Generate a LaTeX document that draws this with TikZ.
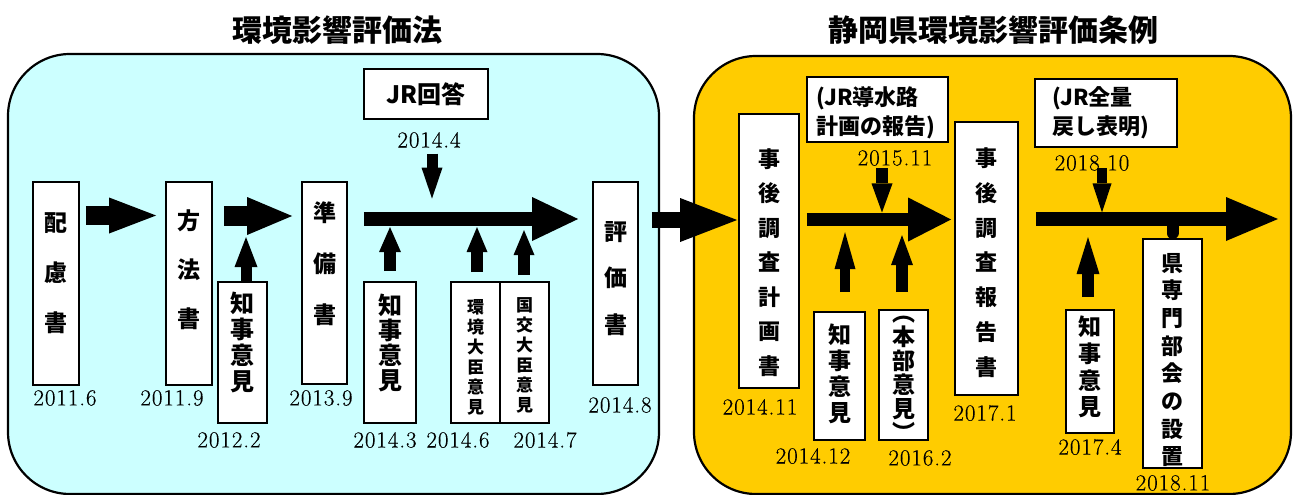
\documentclass[tikz,border=0pt]{standalone}
\usepackage{fontspec}
\newfontfamily\jp{Noto Sans CJK JP}
\newfontfamily\datefont{Latin Modern Roman}[LetterSpace=4,FakeBold=0.25]
\usetikzlibrary{arrows.meta,calc}
\definecolor{panelL}{HTML}{CCFFFF}
\definecolor{panelR}{HTML}{FFCC00}
\begin{document}
\begin{tikzpicture}[x=1pt,y=-1pt,
  panel/.style={draw=black, line width=2.2pt, rounded corners=62pt},
  box/.style n args={2}{draw=black, fill=white, line width=1.8pt, inner sep=0pt, minimum width=#1, minimum height=#2},
  vtext/.style n args={2}{font={\jp\bfseries\fontsize{#1}{#2}\selectfont\lineskiplimit=-50pt}, align=center, inner sep=0pt},
  datelbl/.style={font={\datefont\fontsize{23}{26}\selectfont}, inner sep=0pt},
  titlelbl/.style={font=\jp\bfseries\fontsize{30}{34}\selectfont, inner sep=0pt},
  notelbl/.style={font={\jp\bfseries\fontsize{22}{29}\selectfont}, align=left, inner sep=0pt, anchor=west},
  blk/.style n args={3}{line width=#1, -{Triangle[length=#2,width=#3,line width=0pt]}},
  ]
\useasboundingbox (0,0) rectangle (1294,495);
\fill[white] (0,0) rectangle (1294,495);

% titles
\node[titlelbl] (t1) at (337,30) {環境影響評価法};
\node[titlelbl] (t2) at (993,30) {静岡県環境影響評価条例};

% panels
\draw[panel, fill=panelL] (8,54) rectangle (659,494);
\draw[panel, fill=panelR] (694,56) rectangle (1291,494);

% boxes left
\node[box={46pt}{203pt}] (b1) at (56,283.5) {};
\node[box={46pt}{203pt}] (b2) at (189,283.5) {};
\node[box={49pt}{141pt}] (k1) at (242.5,352.5) {};
\node[box={45pt}{202pt}] (b3) at (324.5,283) {};
\node[box={52pt}{141pt}] (k2) at (390,352.5) {};
\node[box={49pt}{141pt}] (m1) at (475.5,352.5) {};
\node[box={49pt}{141pt}] (m2) at (524.5,352.5) {};
\node[box={45pt}{203pt}] (b4) at (615.5,283.5) {};
\node[box={124pt}{50pt}, font=\jp\bfseries\fontsize{24}{28}\selectfont] (jr1) at (426,94) {JR回答};

% boxes right
\node[box={60pt}{274pt}] (c1) at (769,251) {};
\node[box={51pt}{128pt}] (k3) at (839.5,376) {};
\node[box={49pt}{130pt}] (h1) at (903.5,375) {};
\node[box={63pt}{273pt}] (c2) at (986.5,258.5) {};
\node[box={48pt}{123pt}] (k4) at (1090,371.5) {};
\node[box={59pt}{229pt}] (s1) at (1172.5,353.5) {};
\node[box={141pt}{65pt}] (jr2) at (877.5,109.5) {};
\node[box={142pt}{68pt}] (jr3) at (1106,113) {};

% vertical texts
\node[vtext={23}{50}] (tb1) at (56,273) {配\\慮\\書};
\node[vtext={23}{49}] (tb2) at (189,269.5) {方\\法\\書};
\node[vtext={23}{51}] (tb3) at (324.5,264) {準\\備\\書};
\node[vtext={23}{46.5}] (tb4) at (615.5,278.5) {評\\価\\書};
\node[vtext={24}{26.3}] (tk1) at (242.5,342.5) {知\\事\\意\\見};
\node[vtext={24}{25}] (tk2) at (390,342.5) {知\\事\\意\\見};
\node[vtext={17}{20}] (tm1) at (475.5,357) {環\\境\\大\\臣\\意\\見};
\node[vtext={17}{20}] (tm2) at (524.5,355.5) {国\\交\\大\\臣\\意\\見};
\node[vtext={22}{34.5}] (tc1) at (769,262.5) {事\\後\\調\\査\\計\\画\\書};
\node[vtext={23}{26}] (tk3) at (839.5,374) {知\\事\\意\\見};
\node[vtext={23}{24}] (th1) at (903.5,379) {︵\\本\\部\\意\\見\\︶};
\node[vtext={22}{34.8}] (tc2) at (986.5,262.5) {事\\後\\調\\査\\報\\告\\書};
\node[vtext={23}{26.7}] (tk4) at (1090,367) {知\\事\\意\\見};
\node[vtext={22}{27.7}] (ts1) at (1172.5,360) {県\\専\\門\\部\\会\\の\\設\\置};

% notes
\node[notelbl] (n1) at (816,112.5) {(JR導水路\\計画の報告)};
\node[notelbl] (n2) at (1052,112.5) {(JR全量\\戻し表明)};

% dates
\node[datelbl] (d116) at (65,398) {2011.6};
\node[datelbl] (d119) at (172,398) {2011.9};
\node[datelbl] (d122) at (229,440) {2012.2};
\node[datelbl] (d139) at (321,398) {2013.9};
\node[datelbl] (d143) at (385,440) {2014.3};
\node[datelbl] (d144) at (429,140) {2014.4};
\node[datelbl] (d146) at (458,440) {2014.6};
\node[datelbl] (d147) at (545,440) {2014.7};
\node[datelbl] (d148) at (620,405) {2014.8};
\node[datelbl] (d1411) at (760,407) {2014.11};
\node[datelbl] (d1412) at (813,456) {2014.12};
\node[datelbl] (d1511) at (895,158) {2015.11};
\node[datelbl] (d162) at (920,458) {2016.2};
\node[datelbl] (d171) at (985,413) {2017.1};
\node[datelbl] (d174) at (1090,447) {2017.4};
\node[datelbl] (d1810) at (1092,163) {2018.10};
\node[datelbl] (d1811) at (1173,483) {2018.11};

% main arrows
\coordinate (endR) at (1278,219);
\draw[blk={19pt}{47pt}{36pt}, shorten <=6pt, shorten >=9pt] (b1.east |- 0,215.5) -- (b2.west |- 0,215.5);
\draw[blk={20pt}{45pt}{38pt}, shorten <=11pt, shorten >=9pt] (b2.east |- 0,216) -- (b3.west |- 0,216);
\draw[blk={14pt}{46pt}{44pt}, shorten <=16pt, shorten >=14pt] (b3.east |- 0,219) -- (b4.west |- 0,219);
\draw[blk={16pt}{57pt}{44pt}, shorten <=13pt, shorten >=1pt] (b4.east |- 0,220) -- (c1.west |- 0,220);
\draw[blk={13pt}{43pt}{44pt}, shorten <=7pt, shorten >=3pt] (c1.east |- 0,219.5) -- (c2.west |- 0,219.5);
\draw[blk={14pt}{52pt}{44pt}, shorten <=17pt] (c2.east |- endR) -- (endR);

% up arrows
\draw[blk={11pt}{30pt}{23pt}] ([xshift=3.5pt]k1.north) -- ++(0,-44);
\draw[blk={12pt}{25pt}{22pt}] ([yshift=10pt]k2.north) -- ++(0,-44);
\draw[blk={12pt}{25pt}{21pt}] ([xshift=1.5pt,yshift=9pt]m1.north) -- ++(0,-45);
\draw[blk={12pt}{25pt}{21pt}] ([xshift=-0.5pt,yshift=6pt]m2.north) -- ++(0,-45);
\draw[blk={10pt}{37pt}{21pt}] ([xshift=5.5pt,yshift=19pt]k3.north) -- ++(0,-60);
\draw[blk={12pt}{30pt}{22pt}] ([xshift=-1.5pt,yshift=17pt]h1.north) -- ++(0,-57);
\draw[blk={12pt}{37pt}{23pt}] ([xshift=-2pt,yshift=12pt]k4.north) -- ++(0,-60);

% down arrows
\draw[blk={11pt}{31pt}{21pt}] ($(d144.south)+(3,5.5)$) -- ++(0,45);
\draw[blk={12pt}{29pt}{21pt}] ($(d1511.south)+(-13,2.5)$) -- ++(0,44);
\draw[blk={10pt}{29pt}{19pt}] ($(d1810.south)+(10,-2.5)$) -- ++(0,44);

% stub from prefectural committee box
\draw[line width=12pt, line cap=round] ([yshift=5pt]s1.north) -- (s1.north |- 0,221);
\end{tikzpicture}
\end{document}
